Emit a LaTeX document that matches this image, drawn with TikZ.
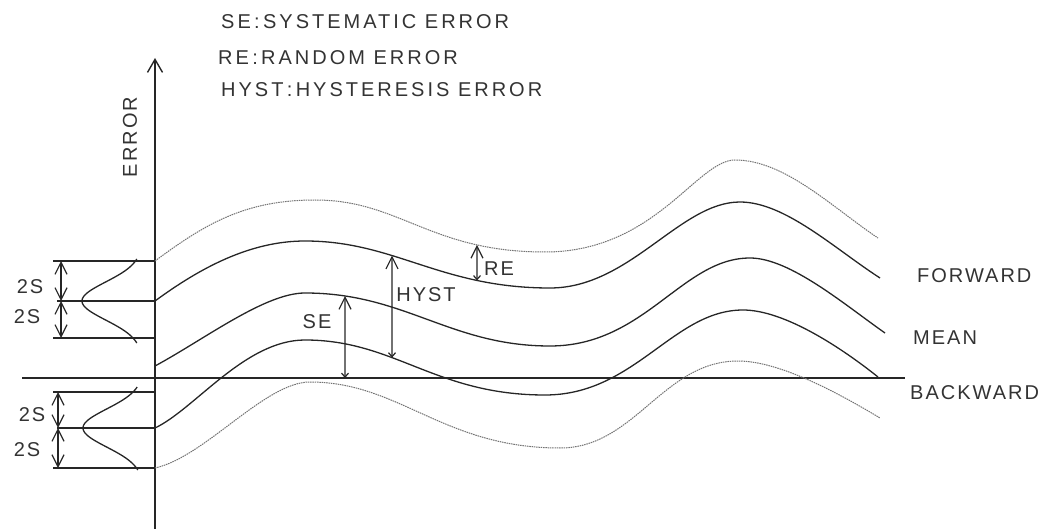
\documentclass[tikz,border=0pt]{standalone}
\usepackage{fontspec}
\setmainfont{Liberation Sans}
\newfontfamily\lblfont[LetterSpace=10]{Liberation Sans}
\newfontfamily\legfont[LetterSpace=15]{Liberation Sans}
\usetikzlibrary{arrows.meta,intersections}
\begin{document}
\begin{tikzpicture}[x=1pt,y=-1pt,
  txt/.style={font={\lblfont\fontsize{20}{24}\selectfont}, text=black!80, inner sep=0pt},
  legtxt/.style={font={\legfont\fontsize{20}{24}\selectfont}, text=black!80, inner sep=0pt, anchor=west},
  curve/.style={line width=1.3pt, draw=black!85},
  dotcurve/.style={line width=1pt, draw=black!55, dash pattern=on 1.5pt off 0.8pt},
  ln/.style={line width=1.4pt, draw=black!85},
  dimarrow/.style={line width=1.2pt, draw=black!85, {Straight Barb[length=12pt,width=12pt]}-{Straight Barb[length=12pt,width=12pt]}},
  measarrow/.style={line width=1.2pt, draw=black!85, {Straight Barb[length=4pt,width=7pt]}-{Straight Barb[length=12pt,width=12pt]}},
]
\useasboundingbox (0,0) rectangle (1044,529);

% legend
\node[legtxt] (lse) at (221,22) {SE\,:\,SYSTEMATIC ERROR};
\node[legtxt] (lre) at (218,57.5) {RE\,:\,RANDOM ERROR};
\node[legtxt] (lhy) at (221,90) {HYST\,:\,HYSTERESIS ERROR};

% axes
\coordinate (ybot) at (155,529);
\coordinate (ytop) at (155,58);
\draw[ln, -{Straight Barb[length=13pt,width=15pt]}] (ybot) -- (ytop);
\node[txt, rotate=90] (yl) at (130,137) {ERROR};
\coordinate (hl) at (22,378);
\coordinate (hr) at (905,378);
\draw[ln] (hl) -- (hr);

% curves
\draw[dotcurve, name path=cA] (155,261) .. controls (205,224) and (245,200) .. (315,200) .. controls (400,200) and (430,252) .. (545,252) .. controls (655,252) and (697,160) .. (735,160) .. controls (785,160) and (833,208) .. (878,238);
\draw[curve, name path=cB] (155,301) .. controls (200,268) and (250,241) .. (305,241) .. controls (395,241) and (440,288) .. (550,288) .. controls (630,288) and (680,202) .. (740,202) .. controls (785,202) and (835,249) .. (880,278);
\draw[curve, name path=cC] (155,366) .. controls (205,339) and (265,293) .. (305,293) .. controls (405,293) and (450,346) .. (550,346) .. controls (645,346) and (682,258) .. (750,258) .. controls (790,258) and (845,305) .. (885,333);
\draw[curve, name path=cD] (155,428) .. controls (195,409) and (245,340) .. (305,340) .. controls (395,340) and (435,395) .. (545,395) .. controls (635,395) and (673,310) .. (743,310) .. controls (785,310) and (843,349) .. (878,377);
\draw[dotcurve, name path=cE] (155,468) .. controls (205,457) and (265,382) .. (310,382) .. controls (400,382) and (443,448) .. (560,448) .. controls (635,448) and (663,361) .. (738,361) .. controls (780,361) and (840,394) .. (880,418);

% left distributions (upper)
\draw[ln] (53,261) -- (155,261);
\draw[ln] (57,301) -- (155,301);
\draw[ln] (53,338) -- (155,338);
\coordinate (u1) at (61,261);
\coordinate (u2) at (61,301);
\coordinate (u3) at (61,338);
\draw[dimarrow] (u1) -- (u2);
\draw[dimarrow] (u2) -- (u3);
\draw[curve] plot[domain=-42:42, samples=60, smooth] ({142-60*exp(-(\x/19)^2/2)}, {301+\x});
\node[txt] (s1) at (30,287) {2S};
\node[txt] (s2) at (27,317) {2S};

% left distributions (lower)
\draw[ln] (53,392) -- (155,392);
\draw[ln] (57,428) -- (155,428);
\draw[ln] (53,468) -- (155,468);
\coordinate (d1) at (58,392);
\coordinate (d2) at (58,428);
\coordinate (d3) at (58,468);
\draw[dimarrow] (d1) -- (d2);
\draw[dimarrow] (d2) -- (d3);
\draw[curve] plot[domain=-41:42, samples=60, smooth] ({143-60*exp(-(\x/19)^2/2)}, {428+\x});
\node[txt] (s3) at (32,415) {2S};
\node[txt] (s4) at (27,450) {2S};

% measurement arrows
\path[name path=vse] (345,0) -- (345,529);
\path[name path=vhy] (392,0) -- (392,529);
\path[name path=vre] (477,0) -- (477,529);
\path[name intersections={of=cC and vse, by={set}}];
\coordinate (seb) at (345,378);
\path[name intersections={of=cB and vhy, by={hyt}}];
\path[name intersections={of=cD and vhy, by={hyb}}];
\path[name intersections={of=cA and vre, by={ret}}];
\path[name intersections={of=cB and vre, by={reb}}];
\draw[measarrow] (seb) -- (set);
\node[txt] (sel) at (317,322) {SE};
\draw[measarrow] (hyb) -- (hyt);
\node[txt] (hyl) at (426,295) {HYST};
\draw[measarrow] (reb) -- (ret);
\node[txt] (rel) at (499,269) {RE};

% right labels
\node[txt, anchor=west] (fw) at (917,275.5) {FORWARD};
\node[txt, anchor=west] (mn) at (913,338) {MEAN};
\node[txt, anchor=west] (bw) at (910,393) {BACKWARD};
\end{tikzpicture}
\end{document}
